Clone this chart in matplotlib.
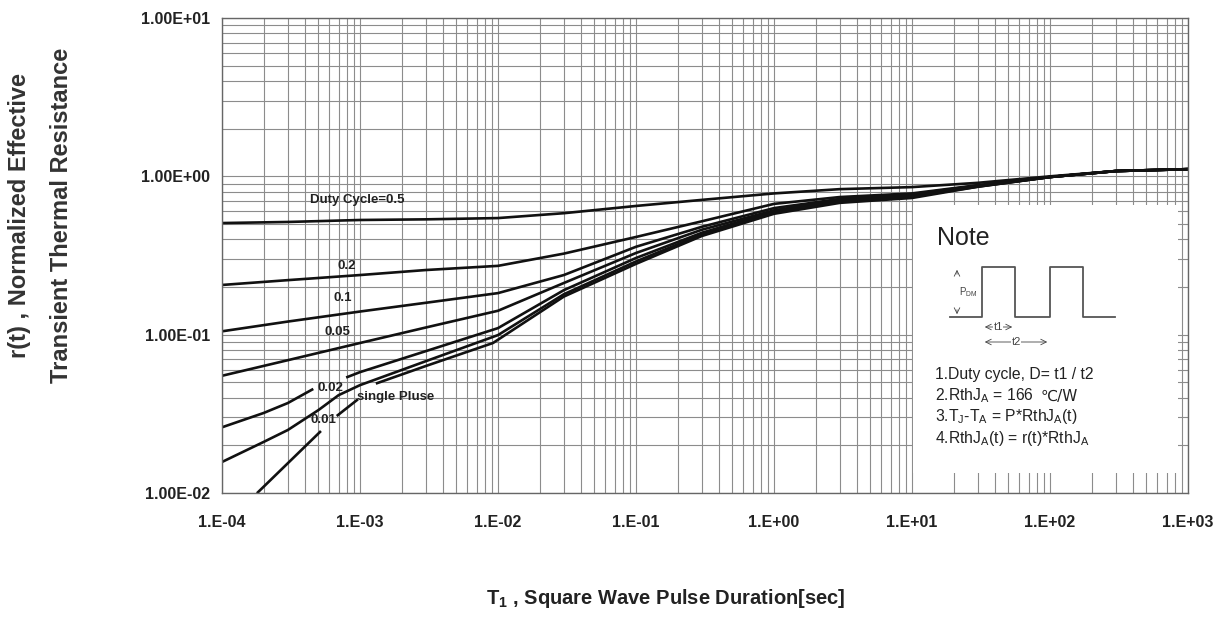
import numpy as np
import matplotlib
matplotlib.use("Agg")
import matplotlib.pyplot as plt
from matplotlib.ticker import LogLocator, NullFormatter

plt.rcParams['font.family'] = ['Liberation Sans', 'DejaVu Sans']
plt.rcParams['mathtext.fontset'] = 'custom'
plt.rcParams['mathtext.rm'] = 'Liberation Sans'
plt.rcParams['mathtext.bf'] = 'Liberation Sans:bold'

# pulse duration [s] and normalized r(t)
nan = np.nan
t_common = [1e-4, 3e-4, 1e-3, 3e-3, 1e-2, 3e-2, 1e-1, 3e-1, 1, 3, 10, 30, 100, 300, 1000]
r_d50 = [0.507, 0.515, 0.53, 0.535, 0.545, 0.585, 0.65, 0.71, 0.78, 0.83, 0.855, 0.91, 1.0, 1.08, 1.11]
r_d20 = [0.206, 0.221, 0.238, 0.256, 0.272, 0.325, 0.414, 0.52, 0.67, 0.74, 0.78, 0.88, 0.99, 1.08, 1.11]
r_d10 = [0.105, 0.121, 0.14, 0.159, 0.183, 0.238, 0.359, 0.48, 0.63, 0.72, 0.77, 0.875, 0.99, 1.08, 1.11]
r_d05 = [0.055, 0.069, 0.0886, 0.111, 0.1416, 0.212, 0.328, 0.46, 0.61, 0.71, 0.76, 0.87, 0.99, 1.08, 1.11]

t_d02 = [1e-4, 2e-4, 3e-4, 4.5e-4, 6e-4, 8.1e-4, 1e-3, 3e-3, 1e-2, 3e-2, 1e-1, 3e-1, 1, 3, 10, 30, 100, 300, 1000]
r_d02 = [0.026, 0.032, 0.037, 0.045, nan, 0.054, 0.058, 0.0787, 0.110, 0.191, 0.305, 0.44, 0.60, 0.70, 0.75, 0.865, 0.99, 1.08, 1.11]

t_d01 = [1e-4, 2e-4, 3e-4, 5e-4, 7e-4, 1e-3, 3e-3, 1e-2, 3e-2, 1e-1, 3e-1, 1, 3, 10, 30, 100, 300, 1000]
r_d01 = [0.0157, 0.021, 0.025, 0.0334, 0.0415, 0.048, 0.068, 0.0994, 0.18, 0.29, 0.43, 0.59, 0.69, 0.745, 0.86, 0.99, 1.08, 1.11]

t_single = [1.82e-4, 5.13e-4, 6e-4, 6.9e-4, 9.5e-4, 1.1e-3, 1.33e-3, 3e-3, 9.2e-3, 3e-2, 1e-1, 3e-1, 1, 3, 10, 30, 100, 300, 1000]
r_single = [0.0101, 0.0243, nan, 0.031, 0.0386, nan, 0.0494, 0.0634, 0.0886, 0.174, 0.28, 0.42, 0.58, 0.68, 0.73, 0.86, 0.99, 1.08, 1.11]

# curve labels: text, x, y
curve_labels = [
    ("Duty Cycle=0.5", 9.5e-4, 0.71),
    ("0.2", 8.05e-4, 0.271),
    ("0.1", 7.5e-4, 0.170),
    ("0.05", 6.9e-4, 0.104),
    ("0.02", 6.1e-4, 0.046),
    ("0.01", 5.4e-4, 0.0288),
]

x_ticks = [1e-4, 1e-3, 1e-2, 1e-1, 1, 10, 100, 1000]
x_tick_labels = ["1.E-04", "1.E-03", "1.E-02", "1.E-01", "1.E+00", "1.E+01", "1.E+02", "1.E+03"]
y_ticks = [1e-2, 1e-1, 1, 10]
y_tick_labels = ["1.00E-02", "1.00E-01", "1.00E+00", "1.00E+01"]

note_lines = [
    "1.Duty cycle, D= t1 / t2",
    "2.RthJ$\\mathregular{_A}$ = 166",
    "3.T$\\mathregular{_J}$-T$\\mathregular{_A}$ = P*RthJ$\\mathregular{_A}$(t)",
    "4.RthJ$\\mathregular{_A}$(t) = r(t)*RthJ$\\mathregular{_A}$",
]

W, H = 1222, 621
fig = plt.figure(figsize=(W / 100, H / 100), dpi=100)
ax = fig.add_axes([222 / W, 1 - 493 / H, (1188 - 222) / W, (493 - 18) / H])

lc = "#111111"
lw = 1.9
ax.plot(t_common, r_d50, color=lc, lw=lw)
ax.plot(t_common, r_d20, color=lc, lw=lw)
ax.plot(t_common, r_d10, color=lc, lw=lw)
ax.plot(t_common, r_d05, color=lc, lw=lw)
ax.plot(t_d02, r_d02, color=lc, lw=lw)
ax.plot(t_d01, r_d01, color=lc, lw=lw)
ax.plot(t_single, r_single, color=lc, lw=lw)

ax.set_xscale("log")
ax.set_yscale("log")
ax.set_xlim(1e-4, 1e3)
ax.set_ylim(1e-2, 1e1)

ax.xaxis.set_minor_locator(LogLocator(base=10, subs=np.arange(2, 10), numticks=100))
ax.yaxis.set_minor_locator(LogLocator(base=10, subs=np.arange(2, 10), numticks=100))
ax.xaxis.set_minor_formatter(NullFormatter())
ax.yaxis.set_minor_formatter(NullFormatter())
ax.set_xticks(x_ticks)
ax.set_xticklabels(x_tick_labels)
ax.set_yticks(y_ticks)
ax.set_yticklabels(y_tick_labels)
ax.tick_params(which="both", length=0)
ax.tick_params(axis="x", pad=16, labelsize=11.5)
ax.tick_params(axis="y", pad=8.5, labelsize=11.5)
for lab in ax.get_xticklabels() + ax.get_yticklabels():
    lab.set_fontweight("bold")
    lab.set_color("#222222")

ax.grid(which="both", color="#8c8c8c", lw=0.8)
ax.set_axisbelow(True)
for sp in ax.spines.values():
    sp.set_color("#666666")
    sp.set_linewidth(1.0)

for txt, x, y in curve_labels:
    ax.text(x, y, txt, fontsize=9.5, fontweight="bold", color="#222222",
            ha="center", va="center")
ax.text(9.5e-4, 0.0404, "single Pluse", fontsize=9.5, fontweight="bold",
        color="#222222", ha="left", va="center")

# note box
nb = fig.add_axes([913 / W, 1 - 473 / H, 265 / W, 268 / H])
nb.set_facecolor("white")
nb.set_xlim(0, 265)
nb.set_ylim(268, 0)
nb.set_xticks([])
nb.set_yticks([])
for sp in nb.spines.values():
    sp.set_visible(False)

nb.text(24, 33, "Note", fontsize=18, va="center", ha="left", color="#222222")
wave_x = [37, 69, 69, 102, 102, 137, 137, 170, 170, 202]
wave_y = [112, 112, 62, 62, 112, 112, 62, 62, 112, 112]
nb.plot(wave_x, wave_y, color="#555555", lw=1.3)
nb.text(46, 87, "P$\\mathregular{_{DM}}$", fontsize=7, va="center", ha="left", color="#444444")
nb.annotate("", xy=(44, 62), xytext=(44, 72), arrowprops=dict(arrowstyle="->", lw=0.6, color="#444444"))
nb.annotate("", xy=(44, 112), xytext=(44, 102), arrowprops=dict(arrowstyle="->", lw=0.6, color="#444444"))
nb.annotate("", xy=(69, 122), xytext=(102, 122), arrowprops=dict(arrowstyle="<->", lw=0.6, color="#444444"))
nb.annotate("", xy=(69, 137), xytext=(137, 137), arrowprops=dict(arrowstyle="<->", lw=0.6, color="#444444"))
nb.text(85, 122, "t1", fontsize=8, ha="center", va="center", color="#444444",
        bbox=dict(fc="white", ec="none", pad=0.5))
nb.text(103, 137, "t2", fontsize=8, ha="center", va="center", color="#444444",
        bbox=dict(fc="white", ec="none", pad=0.5))
for i, line in enumerate(note_lines):
    nb.text(22, 170 + i * 21, line, fontsize=11.3, ha="left", va="center", color="#222222")
nb.text(128, 191, "\u2103/W", fontsize=11, ha="left", va="center", color="#222222",
        family="DejaVu Sans")

fig.text(20 / W, 1 - 215 / H, "r(t) , Normalized Effective", rotation=90,
         ha="center", va="center", fontsize=17, fontweight="bold", color="#333333")
fig.text(62 / W, 1 - 215 / H, "Transient Thermal Resistance", rotation=90,
         ha="center", va="center", fontsize=17, fontweight="bold", color="#333333")
fig.text(666 / W, 1 - 599 / H, "T$\\mathregular{_1}$ , Square Wave Pulse Duration[sec]",
         ha="center", va="center", fontsize=14.5, fontweight="bold", color="#222222")

fig.savefig("out.png", dpi=100, facecolor="white")
